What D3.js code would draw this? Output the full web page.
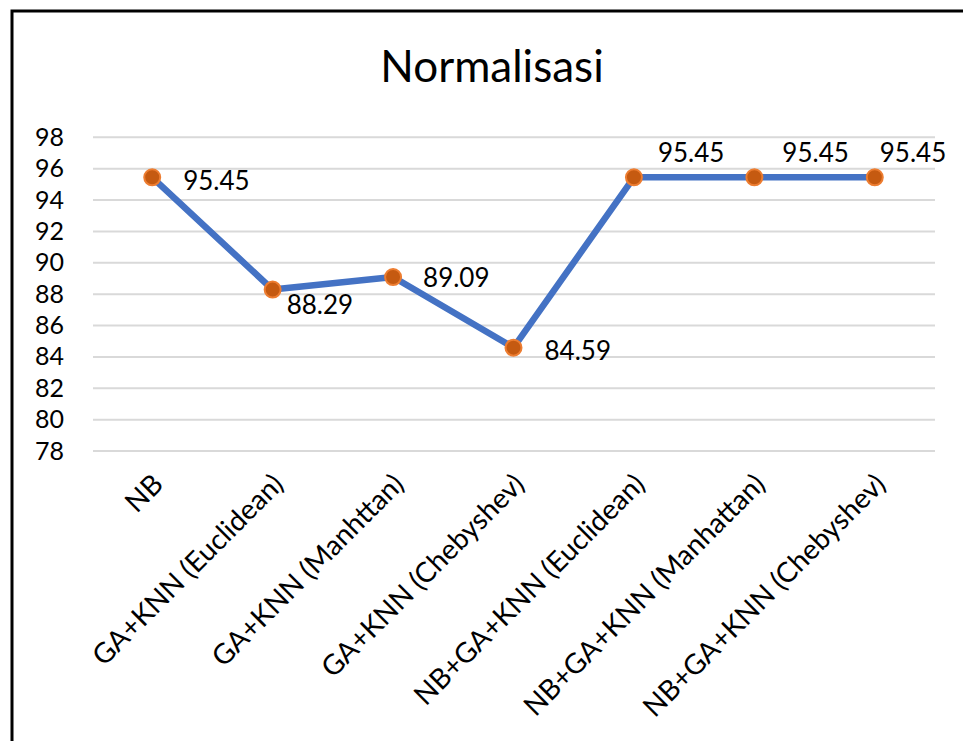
<!DOCTYPE html>
<html>
<head>
<meta charset="utf-8">
<script src="https://cdn.jsdelivr.net/npm/d3@7"></script>
<style>
	body { margin: 0; background: #fff; }
	text { font-family: Lato, "Noto Sans", sans-serif; fill: #000; }
</style>
</head>
<body>
<script>
/* Chart data. */
const categories = [
	'NB',
	'GA+KNN (Euclidean)',
	'GA+KNN (Manhttan)',
	'GA+KNN (Chebyshev)',
	'NB+GA+KNN (Euclidean)',
	'NB+GA+KNN (Manhattan)',
	'NB+GA+KNN (Chebyshev)'
];
const values = [95.45, 88.29, 89.09, 84.59, 95.45, 95.45, 95.45];
const yTicks = [78, 80, 82, 84, 86, 88, 90, 92, 94, 96, 98];
const title = 'Normalisasi';

/* Where each data label sits relative to its marker (left edge, vertical centre). */
const labelOffsets = [[31, 3], [14, 15], [30, 1], [31, 3], [24, -25], [28, -25], [5, -25]];

function main() {
	const width = 963;
	const height = 741;

	let svg = d3.select('body').append('svg')
		.attr('width', width)
		.attr('height', height);

	/* Outer border. */
	svg.append('rect')
		.attr('x', 12)
		.attr('y', 11)
		.attr('width', 1000)
		.attr('height', 800)
		.attr('fill', 'none')
		.attr('stroke', '#000')
		.attr('stroke-width', 3);

	/* Title. */
	svg.append('text')
		.attr('x', 492)
		.attr('y', 82)
		.attr('text-anchor', 'middle')
		.style('font-size', '44px')
		.text(title);

	/* Scales. */
	let xScale = d3.scalePoint()
		.domain(categories)
		.range([92, 935])
		.padding(0.5);
	let yScale = d3.scaleLinear()
		.domain([78, 98])
		.range([451, 137.3]);

	/* Gridlines. */
	svg.append('g')
		.selectAll('line')
		.data(yTicks)
		.enter().append('line')
			.attr('x1', 93)
			.attr('x2', 935)
			.attr('y1', function(d) { return yScale(d); })
			.attr('y2', function(d) { return yScale(d); })
			.attr('stroke', '#d9d9d9')
			.attr('stroke-width', 2);

	/* Y axis. */
	let yAxis = svg.append('g')
		.attr('transform', 'translate(93,0)')
		.call(d3.axisLeft(yScale).tickValues(yTicks).tickSize(0).tickPadding(29));
	yAxis.select('.domain').remove();
	yAxis.selectAll('text')
		.style('font-size', '25px')
		.style('font-family', 'Lato, "Noto Sans", sans-serif');

	/* X axis labels. */
	let xAxis = svg.append('g')
		.attr('transform', 'translate(0,451)')
		.call(d3.axisBottom(xScale).tickSize(0).tickPadding(0));
	xAxis.select('.domain').remove();
	xAxis.selectAll('text')
		.style('font-size', '28px')
		.style('font-family', 'Lato, "Noto Sans", sans-serif')
		.attr('text-anchor', 'end')
		.attr('dy', 0)
		.attr('y', 0)
		.attr('transform', 'translate(12,35) rotate(-45)');

	/* Line. */
	let line = d3.line()
		.x(function(d, i) { return xScale(categories[i]); })
		.y(function(d) { return yScale(d); });

	svg.append('path')
		.datum(values)
		.attr('d', line)
		.attr('fill', 'none')
		.attr('stroke', '#4472c4')
		.attr('stroke-width', 6.5)
		.attr('stroke-linejoin', 'round');

	/* Markers. */
	svg.selectAll('.marker')
		.data(values)
		.enter().append('circle')
			.attr('class', 'marker')
			.attr('cx', function(d, i) { return xScale(categories[i]); })
			.attr('cy', function(d) { return yScale(d); })
			.attr('r', 8)
			.attr('fill', '#c55a11')
			.attr('stroke', '#ed7d31')
			.attr('stroke-width', 2);

	/* Data labels. */
	svg.selectAll('.value-label')
		.data(values)
		.enter().append('text')
			.attr('class', 'value-label')
			.attr('x', function(d, i) { return xScale(categories[i]) + labelOffsets[i][0]; })
			.attr('y', function(d, i) { return yScale(d) + labelOffsets[i][1]; })
			.attr('dy', '0.36em')
			.style('font-size', '26px')
			.text(function(d) { return d.toFixed(2); });
}

window.onload = function() {
	main();
};
</script>
</body>
</html>
